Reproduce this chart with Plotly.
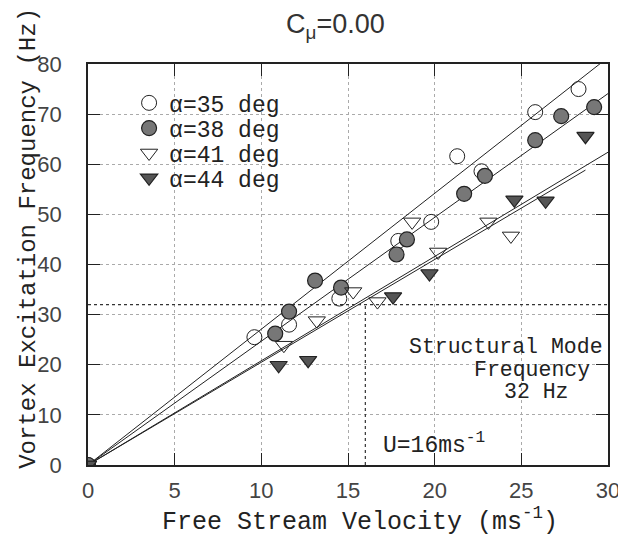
import plotly.graph_objects as go

# ---- data ----
u35 = [0, 9.6, 11.6, 14.5, 17.9, 19.8, 21.3, 22.7, 25.8, 28.3]
f35 = [0, 25.5, 28.0, 33.2, 44.7, 48.5, 61.6, 58.6, 70.4, 75.0]

u38 = [0, 10.8, 11.6, 13.1, 14.6, 17.8, 18.4, 21.7, 22.9, 25.8, 27.3, 29.2]
f38 = [0, 26.2, 30.6, 36.8, 35.4, 42.0, 45.0, 54.1, 57.7, 64.8, 69.6, 71.4]

u41 = [0, 11.3, 13.2, 15.3, 16.7, 18.7, 20.2, 23.1, 24.4]
f41 = [0, 23.9, 28.8, 34.6, 32.6, 48.5, 42.5, 48.5, 45.7]

u44 = [0, 11.0, 12.7, 17.6, 19.7, 24.6, 26.4, 28.7]
f44 = [0, 19.9, 20.9, 33.6, 38.2, 52.9, 52.7, 65.6]

# linear fits through origin (slope, end velocity)
fit_slopes = [2.71, 2.47, 2.08, 2.05]
fit_ends = [30.5, 30.0, 30.0, 28.7]

mode_freq = 32
crit_u = 16

labels = ["α=35 deg", "α=38 deg", "α=41 deg", "α=44 deg"]

MONO = "Liberation Mono"
SANS = "Liberation Sans"
INK = "#222"

fig = go.Figure()

# fit lines
for s, e in zip(fit_slopes, fit_ends):
    fig.add_trace(go.Scatter(x=[0, e], y=[0, s * e], mode="lines",
                             line=dict(color=INK, width=1),
                             showlegend=False, hoverinfo="skip"))

# reference lines
fig.add_trace(go.Scatter(x=[0, 30], y=[mode_freq, mode_freq], mode="lines",
                         line=dict(color="#333", width=1.2, dash="dot"),
                         showlegend=False, hoverinfo="skip"))
fig.add_trace(go.Scatter(x=[crit_u, crit_u], y=[0, mode_freq], mode="lines",
                         line=dict(color="#333", width=1.2, dash="dot"),
                         showlegend=False, hoverinfo="skip"))

msize = 15
series = [
    (u35, f35, dict(symbol="circle-open", size=msize, color=INK, line=dict(width=1, color=INK))),
    (u38, f38, dict(symbol="circle", size=msize, color="#777", line=dict(width=1.2, color=INK))),
    (u41, f41, dict(symbol="triangle-down-open", size=msize, color=INK, line=dict(width=1, color=INK))),
    (u44, f44, dict(symbol="triangle-down", size=msize, color="#555", line=dict(width=1.2, color=INK))),
]
legend_ids = ["legend", "legend2", "legend3", "legend4"]
for (xs, ys, mk), lab, lid in zip(series, labels, legend_ids):
    fig.add_trace(go.Scatter(x=xs, y=ys, mode="markers", name=lab, legend=lid, marker=mk))

axis_common = dict(showline=True, linecolor=INK, linewidth=1.5, mirror="ticks",
                   ticks="inside", ticklen=12, tickcolor=INK, tickwidth=1.2,
                   showgrid=True, gridcolor="#aaa", griddash="dot", gridwidth=1,
                   zeroline=False, automargin=False,
                   tickfont=dict(family=SANS, size=22, color="#444"))

fig.update_xaxes(range=[0, 30], dtick=5, ticklabelstandoff=5, **axis_common)
fig.update_yaxes(range=[0, 80], dtick=10, ticklabelstandoff=20, **axis_common)

leg_rows = [0.903, 0.840, 0.778, 0.716]
leg_common = dict(x=0.079, xanchor="left", yanchor="middle", bgcolor="rgba(0,0,0,0)",
                  font=dict(family=MONO, size=23, color=INK), itemwidth=30)

fig.update_layout(
    width=626, height=540,
    margin=dict(l=80, r=26, t=56, b=83, autoexpand=False),
    plot_bgcolor="white", paper_bgcolor="white",
    showlegend=True,
    legend=dict(y=leg_rows[0], **leg_common),
    legend2=dict(y=leg_rows[1], **leg_common),
    legend3=dict(y=leg_rows[2], **leg_common),
    legend4=dict(y=leg_rows[3], **leg_common),
    annotations=[
        dict(text="C<sub>μ</sub>=0.00", xref="paper", yref="paper", x=0.475, y=1.0,
             yanchor="middle", yshift=38, showarrow=False,
             font=dict(family=SANS, size=27, color="#333")),
        dict(text="Vortex Excitation Frequency (Hz)", xref="paper", yref="paper",
             x=0, xanchor="center", xshift=-59, y=0.564, textangle=-90, showarrow=False,
             font=dict(family=MONO, size=24, color=INK)),
        dict(text="Free Stream Velocity (ms<sup>-1</sup>)", xref="paper", yref="paper",
             x=0.138, xanchor="left", y=0, yshift=-74, showarrow=False,
             font=dict(family=MONO, size=25, color=INK)),
        dict(text="Structural Mode", x=24.1, y=23.5, showarrow=False,
             font=dict(family=MONO, size=21.5, color=INK)),
        dict(text="Frequency", x=25.6, y=19.0, showarrow=False,
             font=dict(family=MONO, size=21.5, color=INK)),
        dict(text="32 Hz", x=25.9, y=14.6, showarrow=False,
             font=dict(family=MONO, size=21.5, color=INK)),
        dict(text="U=16ms<sup>-1</sup>", x=16.9, y=4.2, xanchor="left", showarrow=False,
             font=dict(family=MONO, size=23, color=INK)),
    ],
)

fig.write_html("out.html")
